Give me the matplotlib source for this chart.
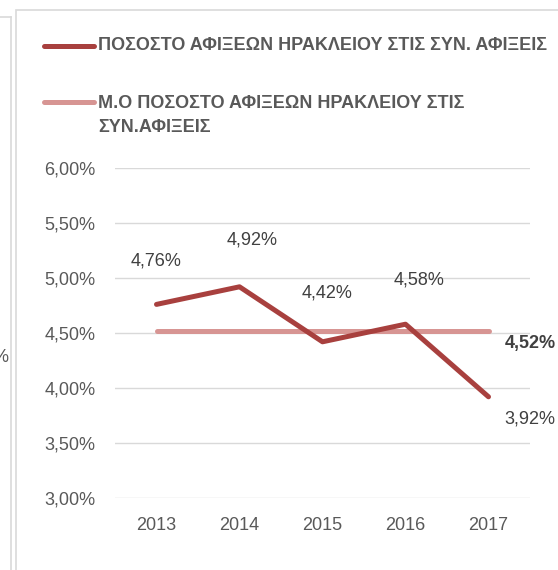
import matplotlib
matplotlib.use("Agg")
import matplotlib.pyplot as plt
from matplotlib.lines import Line2D
from matplotlib.patches import Rectangle
from matplotlib.ticker import FuncFormatter

# data
years = ['2013', '2014', '2015', '2016', '2017']
share = [4.76, 4.92, 4.42, 4.58, 3.92]
share_mean = [4.52, 4.52, 4.52, 4.52, 4.52]
yticks = [3.0, 3.5, 4.0, 4.5, 5.0, 5.5, 6.0]
label_main = 'ΠΟΣΟΣΤΟ ΑΦΙΞΕΩΝ ΗΡΑΚΛΕΙΟΥ ΣΤΙΣ ΣΥΝ. ΑΦΙΞΕΙΣ'
label_mean = ['Μ.Ο ΠΟΣΟΣΤΟ ΑΦΙΞΕΩΝ ΗΡΑΚΛΕΙΟΥ ΣΤΙΣ', 'ΣΥΝ.ΑΦΙΞΕΙΣ']

plt.rcParams['font.family'] = ['Liberation Sans', 'DejaVu Sans']

c_main = '#A8403E'
c_mean = '#D79593'
c_text = '#595959'
c_grid = '#D9D9D9'

W, H = 558, 570
fig = plt.figure(figsize=(W/100, H/100), dpi=100)
ax = fig.add_axes([115/W, 1-498/H, 415/W, 330/H])

x = list(range(len(years)))
ax.plot(x, share, color=c_main, lw=3.6, solid_capstyle='round', solid_joinstyle='round', zorder=3)
ax.plot(x, share_mean, color=c_mean, lw=3.6, solid_capstyle='round', zorder=2)

ax.set_xlim(-0.5, len(years)-0.5)
ax.set_ylim(3.0, 6.0)
ax.set_yticks(yticks)
ax.yaxis.set_major_formatter(FuncFormatter(lambda v, p: f'{v:.2f}%'.replace('.', ',')))
ax.set_xticks(x)
ax.set_xticklabels(years)
ax.grid(axis='y', color=c_grid, lw=1)
ax.set_axisbelow(True)
for s in ax.spines.values():
    s.set_visible(False)
ax.tick_params(length=0, labelsize=13, labelcolor=c_text)
ax.tick_params(axis='y', pad=14)
ax.tick_params(axis='x', pad=14)

# data labels
offsets = [(0, 31), (9, 34), (3, 35), (10, 32), (30, -16)]
for xi, v, off in zip(x, share, offsets):
    ax.annotate(f'{v:.2f}%'.replace('.', ','), (xi, v), xytext=off, textcoords='offset points',
                ha='center', va='center', fontsize=13, color='#404040')
ax.annotate(f'{share_mean[-1]:.2f}%'.replace('.', ','), (x[-1], share_mean[-1]), xytext=(30, -9),
            textcoords='offset points', ha='center', va='center', fontsize=13,
            color='#404040', fontweight='bold')

# legend drawn by hand at the top
fig.add_artist(Line2D([44/W, 94/W], [1-46/H, 1-46/H], color=c_main, lw=3.6, solid_capstyle='round'))
fig.text(98/W, 1-46/H, label_main, fontsize=13, fontweight='bold', color=c_text, va='center')
fig.add_artist(Line2D([44/W, 94/W], [1-102/H, 1-102/H], color=c_mean, lw=3.6, solid_capstyle='round'))
fig.text(98/W, 1-103/H, label_mean[0], fontsize=13, fontweight='bold', color=c_text, va='center')
fig.text(98/W, 1-128/H, label_mean[1], fontsize=13, fontweight='bold', color=c_text, va='center')

# chart frame and neighbouring frame fragment
fig.add_artist(Rectangle((16/W, -0.1), 1, 1-10/H+0.1, fill=False, ec=c_grid, lw=1.2))
fig.add_artist(Line2D([0, 11/W], [1-17/H, 1-17/H], color=c_grid, lw=1.2))
fig.add_artist(Line2D([11/W, 11/W], [0, 1-17/H], color=c_grid, lw=1.2))
fig.text(-8/W, 1-357/H, '%', fontsize=13, color=c_text, va='center')

fig.savefig('out.png', dpi=100)
